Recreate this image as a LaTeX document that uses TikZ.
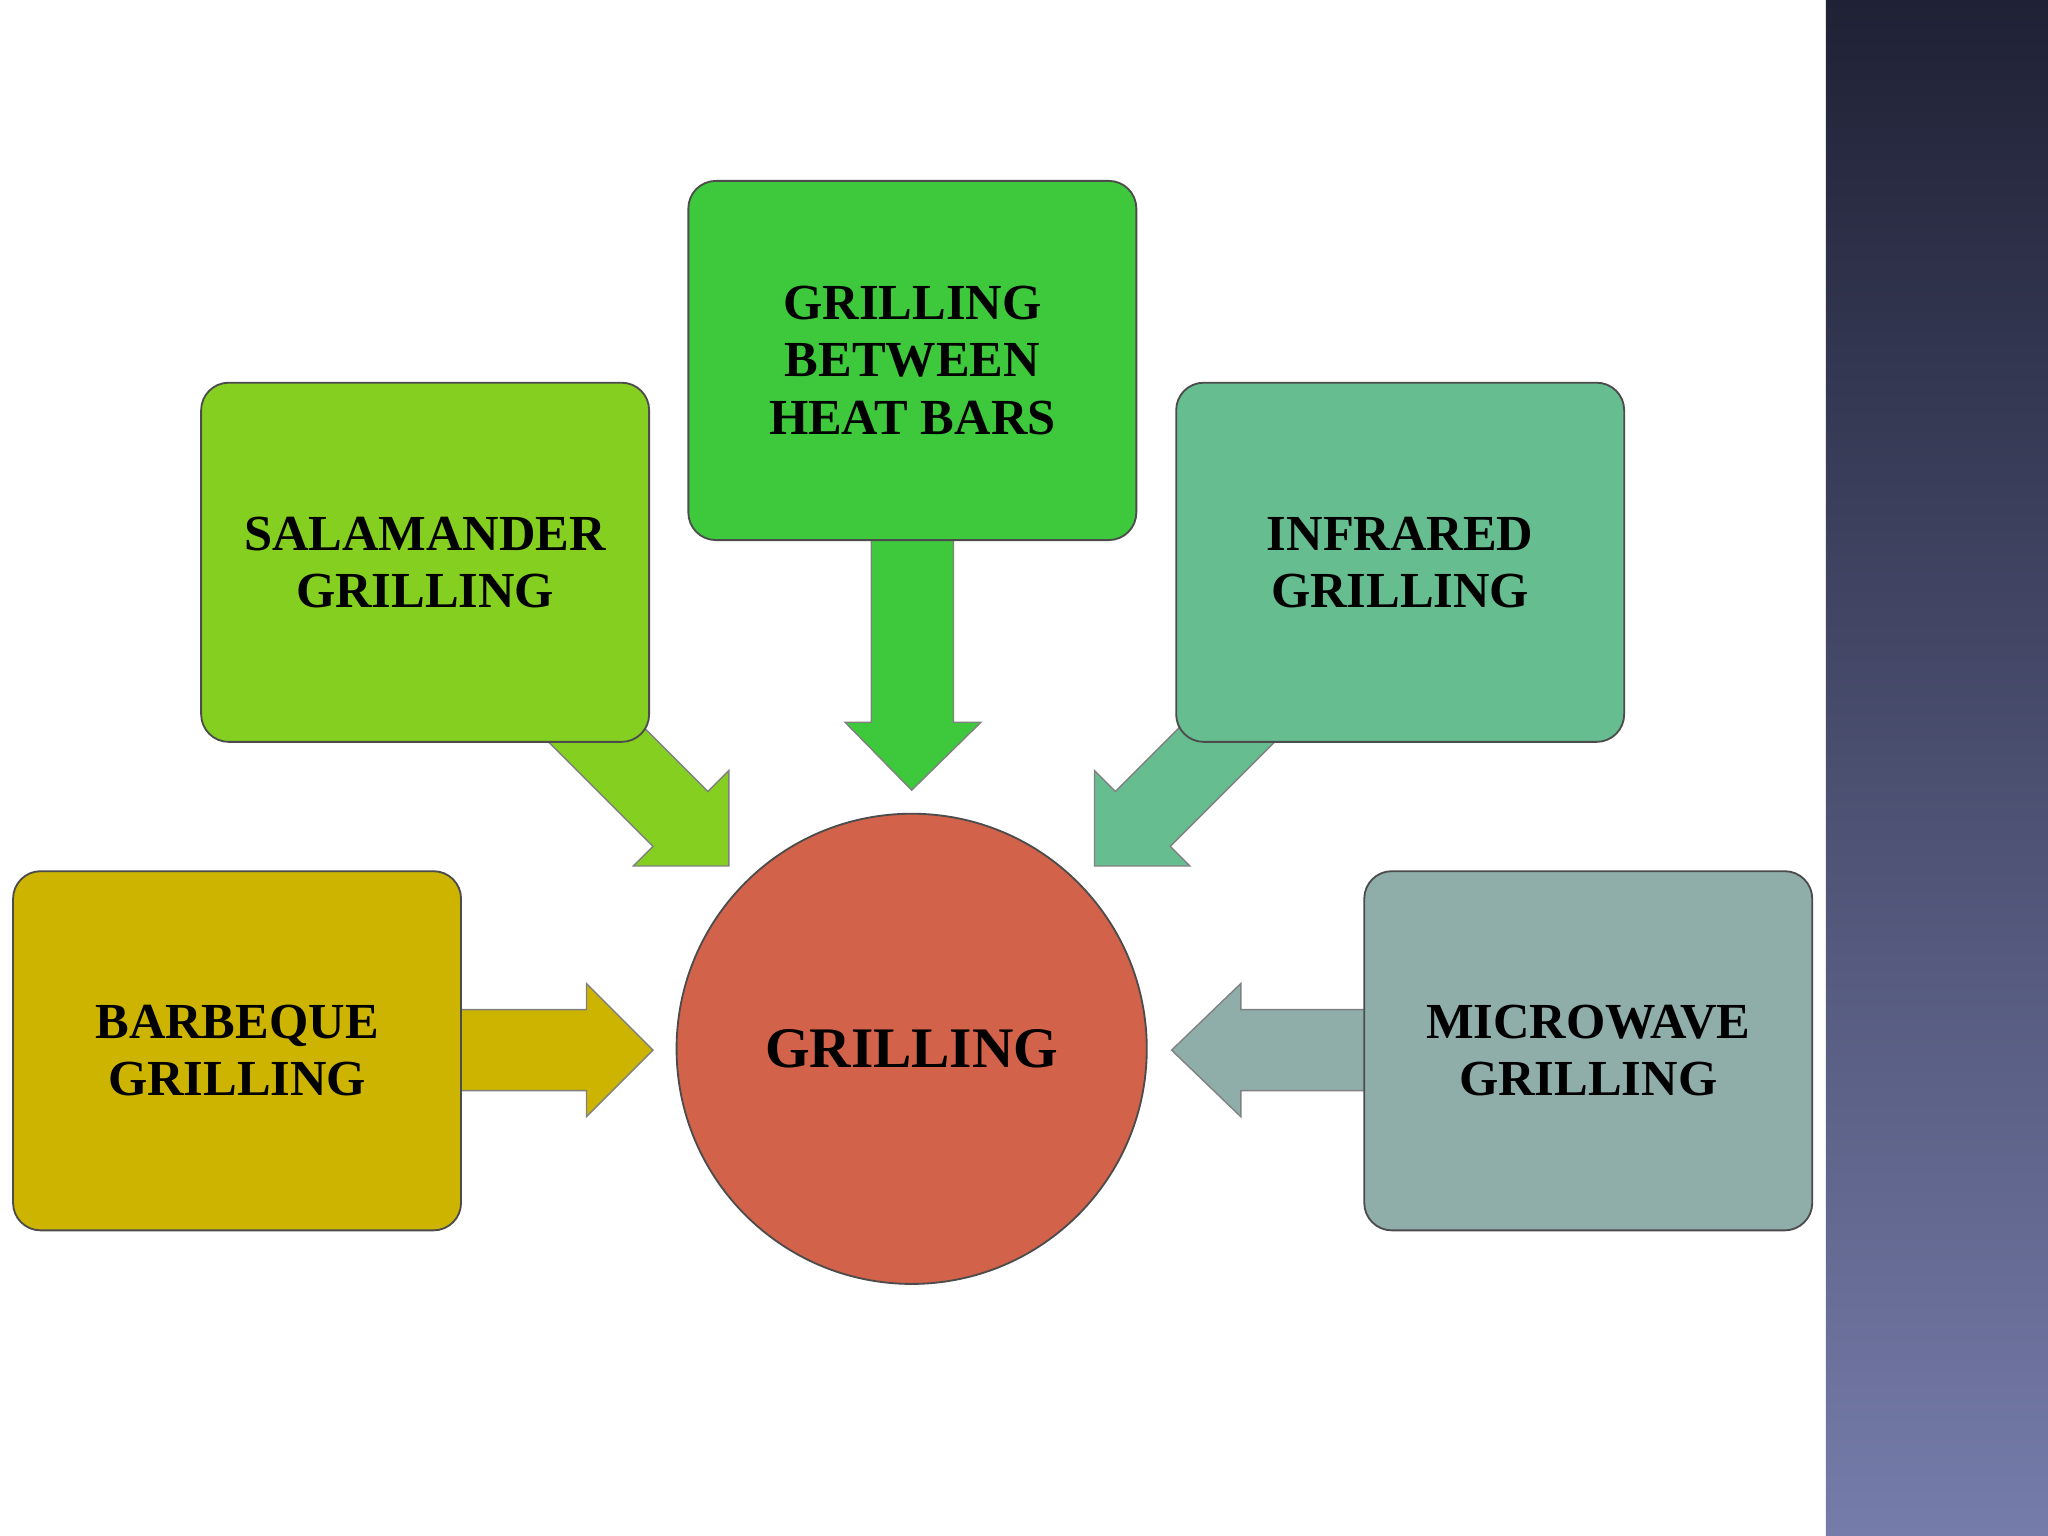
\documentclass[tikz,border=0pt]{standalone}
\usepackage{fontspec}
\setmainfont{Liberation Serif}
\definecolor{cTop}{HTML}{3EC83C}
\definecolor{cSal}{HTML}{84CF1F}
\definecolor{cInf}{HTML}{66BD8F}
\definecolor{cBbq}{HTML}{CCB400}
\definecolor{cMic}{HTML}{8FAEAA}
\definecolor{cCir}{HTML}{D2624A}
\definecolor{barTop}{HTML}{1F2135}
\definecolor{barBot}{HTML}{767CAA}
\begin{document}
\begin{tikzpicture}[x=0.02cm,y=-0.02cm,
  boxs/.style={draw=black!70,line width=0.8pt,rounded corners=12pt,minimum width=343*0.02cm,minimum height=275*0.02cm,align=center,font=\bfseries\fontsize{22}{25}\selectfont,inner sep=0pt},
  arr/.style={draw=black!50,line width=0.6pt}]
\useasboundingbox (0,0) rectangle (1568,1176);
\fill[white] (0,0) rectangle (1568,1176);
\shade[top color=barTop,bottom color=barBot] (1398,0) rectangle (1568,1176);
% arrows
\filldraw[arr,fill=cTop] (667,405)--(730,405)--(730,553)--(751,553)--(698,605)--(647,553)--(667,553)--cycle;
\filldraw[arr,fill=cBbq] (345,773)--(449,773)--(449,753)--(500,804)--(449,855)--(449,835)--(345,835)--cycle;
\filldraw[arr,fill=cMic] (1053,773)--(950,773)--(950,753)--(897,804)--(950,855)--(950,835)--(1053,835)--cycle;
\filldraw[arr,fill=cSal] (415,563)--(500,648)--(485,663)--(558,663)--(558,590)--(542,606)--(488,552)--cycle;
\filldraw[arr,fill=cInf] (981,563)--(896,648)--(911,663)--(838,663)--(838,590)--(854,606)--(908,552)--cycle;
% boxes
\node[boxs,fill=cTop] (top) at (698.5,276) {GRILLING\\BETWEEN\\HEAT BARS};
\node[boxs,fill=cSal] (sal) at (325.5,430.5) {SALAMANDER\\GRILLING};
\node[boxs,fill=cInf] (inf) at (1072,430.5) {INFRARED\\GRILLING};
\node[boxs,fill=cBbq] (bbq) at (181.5,804.5) {BARBEQUE\\GRILLING};
\node[boxs,fill=cMic] (mic) at (1216,804.5) {MICROWAVE\\GRILLING};
\node[circle,draw=black!70,line width=0.8pt,fill=cCir,minimum size=360*0.02cm,inner sep=0pt,font=\bfseries\fontsize{25}{28}\selectfont] (g) at (698,803) {GRILLING};
\end{tikzpicture}
\end{document}
